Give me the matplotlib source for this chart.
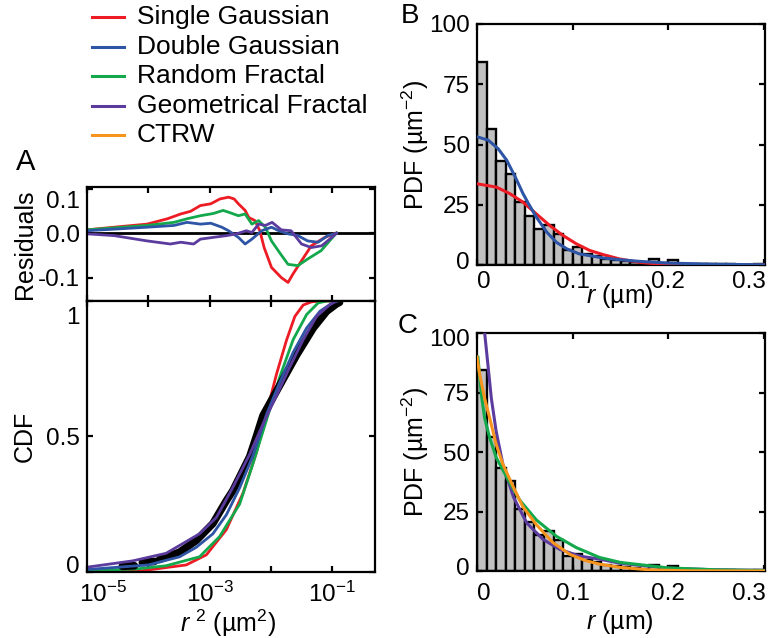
import numpy as np
import matplotlib
matplotlib.use('Agg')
import matplotlib.pyplot as plt
from matplotlib.transforms import ScaledTranslation
from matplotlib.lines import Line2D
from matplotlib.ticker import FixedLocator, NullLocator, FixedFormatter

plt.rcParams['font.family'] = ['Liberation Sans', 'DejaVu Sans']
plt.rcParams['mathtext.fontset'] = 'custom'
plt.rcParams['mathtext.rm'] = 'Liberation Sans'
plt.rcParams['mathtext.it'] = 'Liberation Sans:italic'
plt.rcParams['mathtext.sf'] = 'Liberation Sans'
plt.rcParams['mathtext.bf'] = 'Liberation Sans:bold'

# ---------------- data ----------------
model_names = ['Single Gaussian', 'Double Gaussian', 'Random Fractal',
               'Geometrical Fractal', 'CTRW']
model_colors = ['#ed1c24', '#2e55a5', '#13a84b', '#5b3c9e', '#f7941d']

# histogram of r (bin width 0.01 um)
bin_left = [i / 100 for i in range(30)]
pdf_hist = [84.4, 56.4, 43.2, 37.9, 26.1, 20.5, 15.0, 16.7, 12.9, 6.2,
            7.3, 4.6, 3.9, 2.5, 2.2, 1.6, 1.3, 1.0, 2.5, 1.0,
            2.0, 0.5, 0.4, 0.3, 0.3, 0.6, 0.3, 0.2, 0.2, 0.5]

# panel B fits
b_single_r = [0, 0.0204, 0.0343, 0.048, 0.062, 0.076, 0.09, 0.104, 0.118, 0.132, 0.149, 0.17, 0.19, 0.22, 0.3]
b_single_p = [33.7, 32.3, 29.6, 26.1, 21.2, 16.4, 12.2, 8.75, 6.0, 4.3, 2.5, 1.1, 0.4, 0.1, 0.0]
b_double_r = [0, 0.0117, 0.022, 0.031, 0.040, 0.048, 0.0536, 0.062, 0.073, 0.083, 0.094, 0.107, 0.132, 0.149, 0.17, 0.2, 0.25, 0.3]
b_double_p = [53.2, 51.8, 48.3, 43.5, 36.5, 29.7, 25.6, 19.9, 13.6, 9.4, 6.67, 4.6, 2.9, 2.2, 1.5, 0.8, 0.3, 0.1]

# panel C fits
c_random_r = [0.001, 0.003, 0.0046, 0.008, 0.0133, 0.020, 0.031, 0.0447, 0.062, 0.083, 0.104, 0.128, 0.15, 0.2, 0.25, 0.3]
c_random_p = [89.9, 80.9, 74.0, 64.3, 56.0, 47.8, 39.5, 29.8, 21.5, 14.6, 9.8, 5.7, 3.6, 1.3, 0.5, 0.2]
c_geom_r = [0.005, 0.008, 0.0115, 0.015, 0.020, 0.027, 0.038, 0.052, 0.069, 0.0865, 0.107, 0.128, 0.15, 0.2, 0.25, 0.3]
c_geom_p = [125.0, 100.2, 86.4, 72.6, 58.8, 45.0, 31.2, 20.2, 13.3, 9.1, 6.3, 5.0, 3.2, 1.2, 0.5, 0.3]
c_ctrw_r = [0.0, 0.003, 0.008, 0.0133, 0.020, 0.027, 0.038, 0.048, 0.062, 0.0795, 0.097, 0.114, 0.128, 0.15, 0.18, 0.22, 0.3]
c_ctrw_p = [90.0, 82.3, 72.6, 64.3, 53.3, 45.0, 35.3, 27.0, 19.5, 11.9, 7.0, 4.3, 2.9, 1.5, 0.5, 0.1, 0.0]

# panel A: CDF vs log10(r^2)
cdf_single_logr2 = [-5.0, -4.09, -3.381, -3.054, -2.727, -2.455, -2.236, -2.072, -1.908, -1.745, -1.609, -1.473, -1.336, -1.2, -0.99]
cdf_single = [0.001, 0.004, 0.025, 0.062, 0.155, 0.29, 0.44, 0.585, 0.73, 0.855, 0.943, 0.985, 0.997, 1.0, 1.0]
cdf_double_logr2 = [-5.0, -4.0, -3.49, -3.218, -2.946, -2.727, -2.509, -2.291, -2.072, -1.854, -1.637, -1.417, -1.2, -0.982, -0.905]
cdf_double = [0.008, 0.025, 0.055, 0.09, 0.14, 0.21, 0.31, 0.43, 0.58, 0.70, 0.81, 0.90, 0.962, 0.995, 1.0]
cdf_random_logr2 = [-5.0, -4.2, -3.709, -3.164, -2.836, -2.509, -2.291, -2.072, -1.854, -1.637, -1.417, -1.228, -1.09, -0.99]
cdf_random = [0.004, 0.01, 0.022, 0.055, 0.13, 0.25, 0.40, 0.56, 0.72, 0.857, 0.95, 0.993, 1.0, 1.0]
cdf_geom_logr2 = [-5.02, -4.255, -3.709, -3.164, -2.89, -2.624, -2.345, -2.128, -1.908, -1.69, -1.473, -1.254, -1.036, -0.93]
cdf_geom = [0.016, 0.04, 0.068, 0.14, 0.2, 0.31, 0.434, 0.546, 0.65, 0.757, 0.857, 0.943, 0.987, 1.0]
cdf_data_logr2 = [-4.424, -4.227, np.nan, -4.097, -3.90, np.nan, -3.818, -3.491, -3.218, -2.946, -2.727,
                  -2.619, -2.345, -2.236, -2.128, -1.854, -1.581, -1.309, -1.09, -0.926, -0.88]
cdf_data = [0.02, 0.022, np.nan, 0.034, 0.038, np.nan, 0.045, 0.072, 0.115, 0.178, 0.262,
            0.30, 0.425, 0.50, 0.577, 0.689, 0.80, 0.90, 0.962, 0.99, 0.995]

# panel A: residuals vs log10(r^2)
res_single_logr2 = [-5.0, -4.56, -4.02, -3.69, -3.47, -3.31, -3.15, -2.98, -2.83, -2.69, -2.6, -2.53, -2.42, -2.36, -2.26, -2.18, -2.11,
                    -1.99, -1.83, -1.72, -1.64, -1.50, -1.34, -1.12, -0.93]
res_single = [0.008, 0.014, 0.021, 0.033, 0.044, 0.050, 0.063, 0.067, 0.078, 0.082, 0.078, 0.067, 0.052, 0.036, 0.029, 0.006, -0.032,
              -0.077, -0.10, -0.111, -0.092, -0.062, -0.028, -0.009, 0.001]
res_double_logr2 = [-5.0, -4.02, -3.58, -3.37, -3.15, -2.98, -2.8, -2.69, -2.53, -2.42, -2.31, -2.15, -1.99, -1.87, -1.72, -1.56, -1.40, -1.23, -1.07, -0.93]
res_double = [0.006, 0.014, 0.018, 0.025, 0.021, 0.023, 0.014, 0.006, -0.009, -0.024, -0.013, 0.006, 0.014, 0.006, -0.001, -0.005, -0.017, -0.02, -0.005, 0.0]
res_random_logr2 = [-5.0, -4.02, -3.58, -3.37, -3.15, -2.94, -2.78, -2.69, -2.53, -2.42, -2.31, -2.2, -2.09, -1.99, -1.84, -1.72, -1.56, -1.40, -1.18, -0.93]
res_random = [0.008, 0.018, 0.025, 0.033, 0.040, 0.045, 0.052, 0.048, 0.040, 0.044, 0.021, 0.029, 0.014, -0.017, -0.047, -0.07, -0.073, -0.058, -0.039, 0.001]
res_geom_logr2 = [-5.0, -4.56, -4.02, -3.64, -3.47, -3.26, -3.15, -2.94, -2.72, -2.56, -2.4, -2.31, -2.2, -2.09, -1.98, -1.83, -1.67, -1.50, -1.34, -1.17, -0.93]
res_geom = [-0.001, -0.005, -0.017, -0.024, -0.02, -0.024, -0.013, -0.009, -0.005, -0.001, 0.006, 0.002, 0.021, 0.018, 0.025, 0.008, 0.006, -0.024, -0.032, -0.028, 0.0]

# ---------------- figure ----------------
W, H = 769, 638
fig = plt.figure(figsize=(W / 100, H / 100), dpi=100)


def box(l, t, r, b):
    return [l / W, 1 - b / H, (r - l) / W, (b - t) / H]


ax_res = fig.add_axes(box(87, 187, 375, 301))
ax_cdf = fig.add_axes(box(87, 301, 375, 571.7))
ax_b = fig.add_axes(box(477, 24, 765, 265))
ax_c = fig.add_axes(box(477, 333.3, 765, 571))

TICK_FS = 17.5
LAB_FS = 18


def style(ax, xpad=4, ypad=4):
    for s in ax.spines.values():
        s.set_linewidth(1.6)
    ax.tick_params(direction='in', length=4.5, width=1.6, top=True, right=True,
                   labelsize=TICK_FS)
    ax.tick_params(axis='x', pad=xpad)
    ax.tick_params(axis='y', pad=ypad)


def shift(label, dx_px=0, dy_px=0):
    label.set_transform(label.get_transform() +
                        ScaledTranslation(dx_px / 100, dy_px / 100, fig.dpi_scale_trans))


lw = 2.0
# --- residuals
ax_res.axhline(0, color='black', lw=2.0)
ax_res.plot(10 ** np.array(res_single_logr2), res_single, color=model_colors[0], lw=lw)
ax_res.plot(10 ** np.array(res_random_logr2), res_random, color=model_colors[2], lw=lw)
ax_res.plot(10 ** np.array(res_double_logr2), res_double, color=model_colors[1], lw=lw)
ax_res.plot(10 ** np.array(res_geom_logr2), res_geom, color=model_colors[3], lw=lw)
ax_res.set_xscale('log')
ax_res.set_xlim(1e-5, 0.5)
ax_res.set_ylim(-0.153, 0.105)
decades = [1e-5, 1e-4, 1e-3, 1e-2, 1e-1]
ax_res.xaxis.set_major_locator(FixedLocator(decades))
ax_res.xaxis.set_minor_locator(NullLocator())
ax_res.yaxis.set_major_locator(FixedLocator([-0.1, 0.0, 0.1]))
ax_res.yaxis.set_major_formatter(FixedFormatter(['-0.1', '0.0', '0.1']))
style(ax_res, ypad=5)
ax_res.tick_params(axis='x', labelbottom=False)
ax_res.set_ylabel('Residuals', fontsize=LAB_FS)
ax_res.yaxis.set_label_coords(-0.215, 0.5)
ax_res.yaxis.label.set_va('center')
shift(ax_res.get_yticklabels()[2], dy_px=-10)

# --- CDF
ax_cdf.plot(10 ** np.array(cdf_single_logr2), cdf_single, color=model_colors[0], lw=lw)
ax_cdf.plot(10 ** np.array(cdf_random_logr2), cdf_random, color=model_colors[2], lw=lw)
ax_cdf.plot(10 ** np.array(cdf_data_logr2), cdf_data, color='black', lw=5.5,
            solid_capstyle='round')
ax_cdf.plot(10 ** np.array(cdf_double_logr2), cdf_double, color=model_colors[1], lw=lw)
ax_cdf.plot(10 ** np.array(cdf_geom_logr2), cdf_geom, color=model_colors[3], lw=lw)
ax_cdf.set_xscale('log')
ax_cdf.set_xlim(1e-5, 0.5)
ax_cdf.set_ylim(0, 1.0)
ax_cdf.xaxis.set_major_locator(FixedLocator(decades))
ax_cdf.xaxis.set_minor_locator(NullLocator())
ax_cdf.xaxis.set_major_formatter(FixedFormatter(['10$^{-5}$', '', '10$^{-3}$', '', '10$^{-1}$']))
ax_cdf.yaxis.set_major_locator(FixedLocator([0, 0.5, 1]))
ax_cdf.yaxis.set_major_formatter(FixedFormatter(['0', '0.5', '1']))
style(ax_cdf, xpad=7.5, ypad=5)
ax_cdf.set_ylabel('CDF', fontsize=LAB_FS)
ax_cdf.yaxis.set_label_coords(-0.215, 0.5)
ax_cdf.yaxis.label.set_va('center')
ax_cdf.set_xlabel('$r$ $^{2}$ (µm$^{2}$)', fontsize=LAB_FS)
ax_cdf.xaxis.set_label_coords(0.49, -0.19)
ax_cdf.xaxis.label.set_va('center')
shift(ax_cdf.get_yticklabels()[0], dy_px=7)
shift(ax_cdf.get_yticklabels()[2], dy_px=-15)
shift(ax_cdf.get_xticklabels()[0], dx_px=16)

# --- B and C histograms
for ax in (ax_b, ax_c):
    ax.bar(bin_left, pdf_hist, width=0.01, align='edge', color='#c0c0c0',
           edgecolor='black', linewidth=1.7, zorder=1)

ax_b.plot(b_single_r, b_single_p, color=model_colors[0], lw=2.2, zorder=3)
ax_b.plot(b_double_r, b_double_p, color=model_colors[1], lw=2.2, zorder=3)

ax_c.plot(c_geom_r, c_geom_p, color=model_colors[3], lw=2.2, zorder=3)
ax_c.plot(c_random_r, c_random_p, color=model_colors[2], lw=2.2, zorder=3)
ax_c.plot(c_ctrw_r, c_ctrw_p, color=model_colors[4], lw=2.2, zorder=3)

for ax, xpad, lab_y in ((ax_b, 4, -0.129), (ax_c, 9, -0.215)):
    ax.set_xlim(0, 0.301)
    ax.set_ylim(0, 100)
    ax.xaxis.set_major_locator(FixedLocator([0, 0.1, 0.2, 0.3]))
    ax.xaxis.set_major_formatter(FixedFormatter(['0', '0.1', '0.2', '0.3']))
    ax.yaxis.set_major_locator(FixedLocator([0, 25, 50, 75, 100]))
    ax.yaxis.set_major_formatter(FixedFormatter(['0', '25', '50', '75', '100']))
    style(ax, xpad=xpad, ypad=5)
    ax.set_ylabel('PDF (µm$^{-2}$)', fontsize=LAB_FS)
    ax.yaxis.set_label_coords(-0.215, 0.5)
    ax.yaxis.label.set_va('center')
    ax.set_xlabel('$r$ (µm)', fontsize=LAB_FS)
    ax.xaxis.set_label_coords(0.497, lab_y)
    ax.xaxis.label.set_va('center')
    xl = ax.get_xticklabels()
    shift(xl[0], dx_px=7)
    shift(xl[3], dx_px=-15)
    shift(ax.get_yticklabels()[0], dy_px=4.5)
shift(ax_c.get_yticklabels()[4], dy_px=-4)

# panel letters
fig.text(26 / W, 1 - 162 / H, 'A', fontsize=21, ha='center', va='center')
fig.text(410 / W, 1 - 16 / H, 'B', fontsize=20, ha='center', va='center')
fig.text(408 / W, 1 - 326 / H, 'C', fontsize=20, ha='center', va='center')

# legend
rows = [17, 47, 76, 106, 135]
for name, col, y in zip(model_names, model_colors, rows):
    yf = 1 - y / H
    fig.add_artist(Line2D([92 / W, 124 / W], [yf, yf], color=col, lw=2.2))
    fig.text(137 / W, yf, name, fontsize=19, ha='left', va='center')

fig.savefig('out.png', dpi=100)
